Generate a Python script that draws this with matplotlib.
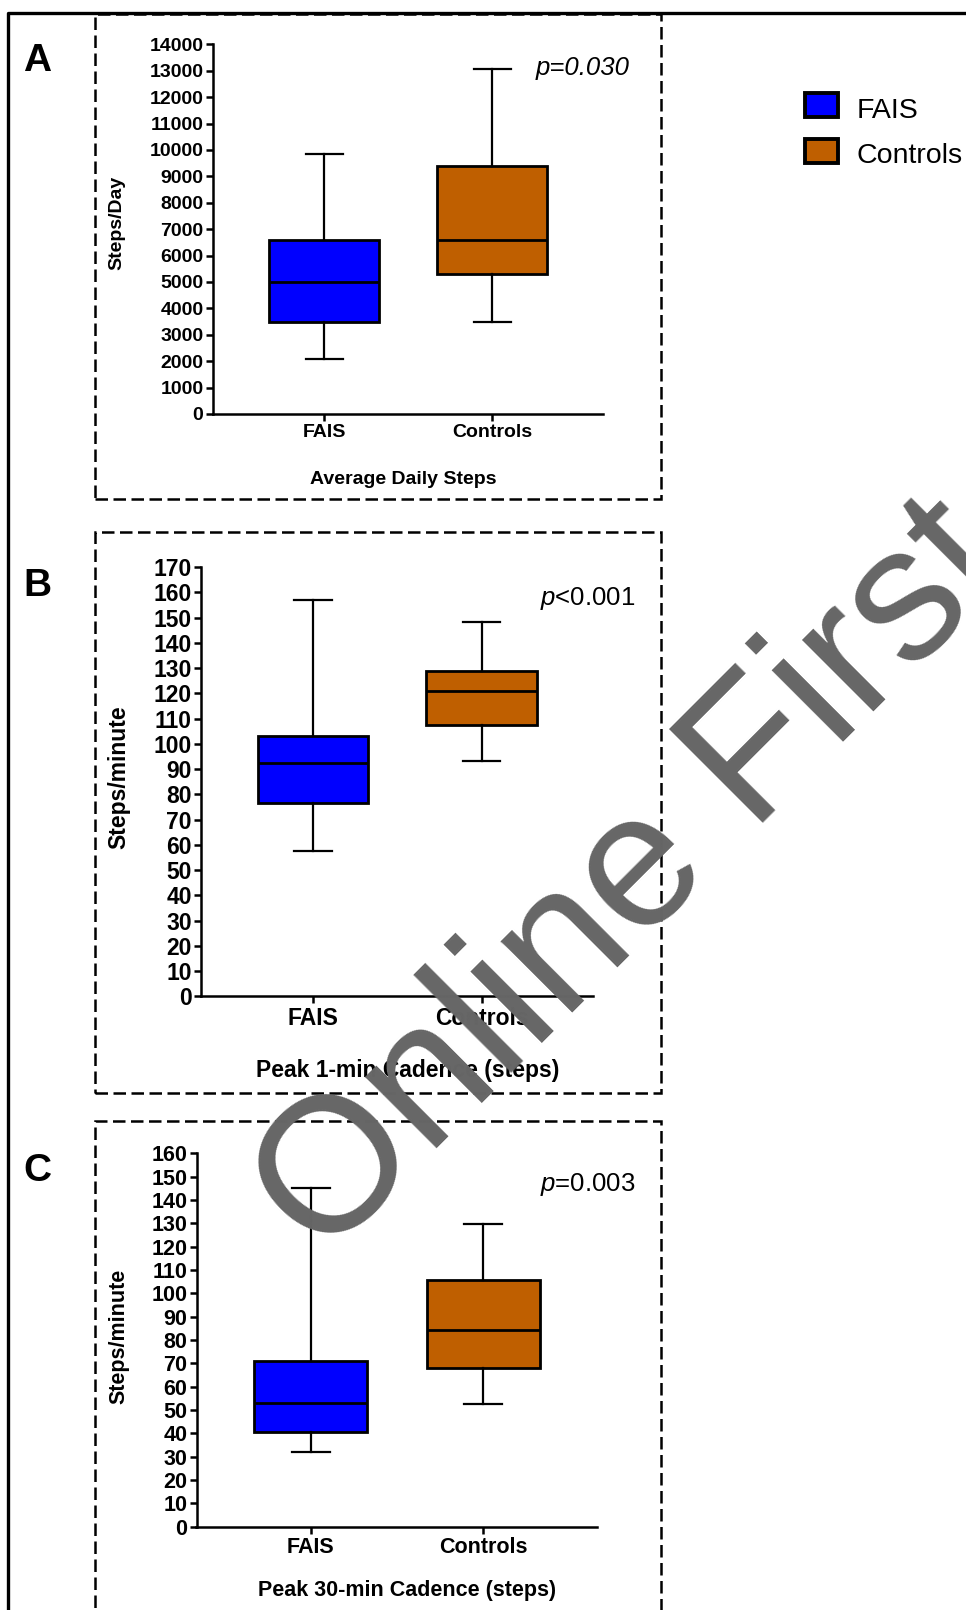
import matplotlib
matplotlib.use("Agg")
import matplotlib.pyplot as plt
from matplotlib.patches import Rectangle
from matplotlib.lines import Line2D

# ---- data (min, Q1, median, Q3, max) ----
groups = ["FAIS", "Controls"]
colors = ["#0000FF", "#BF5F00"]

daily_fais = [2080, 3490, 4990, 6590, 9840]
daily_ctrl = [3490, 5300, 6580, 9380, 13070]
cad1_fais = [57.7, 76.4, 92.5, 103.2, 156.8]
cad1_ctrl = [93.2, 107.5, 120.9, 128.7, 148.2]
cad30_fais = [32.1, 40.6, 53.1, 71.0, 145.3]
cad30_ctrl = [52.4, 67.9, 84.1, 105.9, 129.9]

ticks_daily = list(range(0, 14001, 1000))
ticks_cad1 = list(range(0, 171, 10))
ticks_cad30 = list(range(0, 161, 10))

# ---- layout helpers (pixel coords of the 966x1610 canvas) ----
W, H = 966, 1610
def fx(x): return x / W
def fy(y): return 1 - y / H

plt.rcParams['font.family'] = ['Liberation Sans', 'DejaVu Sans']
plt.rcParams['font.weight'] = 'bold'
plt.rcParams['mathtext.fontset'] = 'custom'
plt.rcParams['mathtext.it'] = 'Liberation Sans:italic:weight=normal'
plt.rcParams['mathtext.rm'] = 'Liberation Sans:weight=normal'

fig = plt.figure(figsize=(W / 100, H / 100), dpi=100)

panels = [
    dict(letter="A", fais=daily_fais, ctrl=daily_ctrl, ticks=ticks_daily,
         ylabel="Steps/Day", xlabel="Average Daily Steps",
         ptext="p=0.030", pstyle="italic", fs=14,
         ax=(212.5, 44.3, 603, 414), box=(95, 14, 661, 499),
         letter_y=61, ylab=(117, 223), xlab=(403, 480), pxy=(536, 75)),
    dict(letter="B", fais=cad1_fais, ctrl=cad1_ctrl, ticks=ticks_cad1,
         ylabel="Steps/minute", xlabel="Peak 1-min Cadence (steps)",
         ptext="$p$<0.001", pstyle="normal", fs=16.5,
         ax=(201, 567, 593, 996.4), box=(95, 532, 661, 1093),
         letter_y=586, ylab=(119, 777), xlab=(408, 1070), pxy=(540, 605)),
    dict(letter="C", fais=cad30_fais, ctrl=cad30_ctrl, ticks=ticks_cad30,
         ylabel="Steps/minute", xlabel="Peak 30-min Cadence (steps)",
         ptext="$p$=0.003", pstyle="normal", fs=15.5,
         ax=(196.5, 1153.3, 597, 1526.7), box=(95, 1121, 661, 1630),
         letter_y=1171, ylab=(119, 1336), xlab=(407, 1590), pxy=(540, 1191)),
]

dash = (0, (5, 2.2))

for p in panels:
    l, t, r, b = p["ax"]
    ax = fig.add_axes([fx(l), fy(b), (r - l) / W, (b - t) / H])
    ax.set_facecolor("none")

    stats = []
    for g, v in zip(groups, [p["fais"], p["ctrl"]]):
        stats.append(dict(label=g, whislo=v[0], q1=v[1], med=v[2],
                          q3=v[3], whishi=v[4], fliers=[]))
    bp = ax.bxp(stats, positions=[1, 2], widths=0.655, capwidths=0.22,
                patch_artist=True, showfliers=False,
                boxprops=dict(linewidth=2.0, edgecolor="black"),
                medianprops=dict(color="black", linewidth=2.0),
                whiskerprops=dict(color="black", linewidth=1.6),
                capprops=dict(color="black", linewidth=1.6))
    for patch, c in zip(bp["boxes"], colors):
        patch.set_facecolor(c)

    ax.set_xlim(0.336, 2.66)
    ax.set_ylim(0, p["ticks"][-1])
    ax.set_yticks(p["ticks"])
    ax.set_yticklabels([str(v) for v in p["ticks"]])
    for s in ["top", "right"]:
        ax.spines[s].set_visible(False)
    for s in ["left", "bottom"]:
        ax.spines[s].set_linewidth(1.8)
    ax.tick_params(axis="y", length=5, width=1.8, pad=1.5, labelsize=p["fs"])
    ax.tick_params(axis="x", length=5, width=1.8, pad=2.5, labelsize=p["fs"])

    # labels
    fig.text(fx(p["ylab"][0]), fy(p["ylab"][1]), p["ylabel"], rotation=90,
             ha="center", va="center", fontsize=p["fs"])
    fig.text(fx(p["xlab"][0]), fy(p["xlab"][1]), p["xlabel"],
             ha="center", va="center", fontsize=p["fs"])
    fig.text(fx(37), fy(p["letter_y"]), p["letter"], ha="center", va="center",
             fontsize=28)
    fig.text(fx(p["pxy"][0]), fy(p["pxy"][1]), p["ptext"], ha="left",
             va="baseline", fontsize=18.5, fontweight="normal",
             fontstyle=p["pstyle"])

    # dashed frame round the panel
    bl, bt, br, bb = p["box"]
    fig.add_artist(Rectangle((fx(bl), fy(bb)), (br - bl) / W, (bb - bt) / H,
                             transform=fig.transFigure, fill=False,
                             edgecolor="black", linewidth=1.8, linestyle=dash))

# outer solid border (clipped by the canvas on the right and bottom)
fig.add_artist(Line2D([fx(7.5), fx(7.5), fx(980)], [fy(1630), fy(13), fy(13)],
                      transform=fig.transFigure, color="black", linewidth=2.4))

# legend
legend_rows = [(105, 117.5), (151.5, 163)]
for (cy, base), g, c in zip(legend_rows, groups, colors):
    fig.add_artist(Rectangle((fx(805), fy(cy + 12)), 33 / W, 24 / H,
                             transform=fig.transFigure, facecolor=c,
                             edgecolor="black", linewidth=2.8))
    fig.text(fx(857), fy(base), g, ha="left", va="baseline", fontsize=20.5,
             fontweight="normal")

# watermark
fig.text(fx(634), fy(881), "Online First", fontsize=138, color="#666666",
         rotation=45, rotation_mode="anchor", ha="center", va="center",
         fontweight="normal", zorder=20)

fig.savefig("out.png", dpi=100)
